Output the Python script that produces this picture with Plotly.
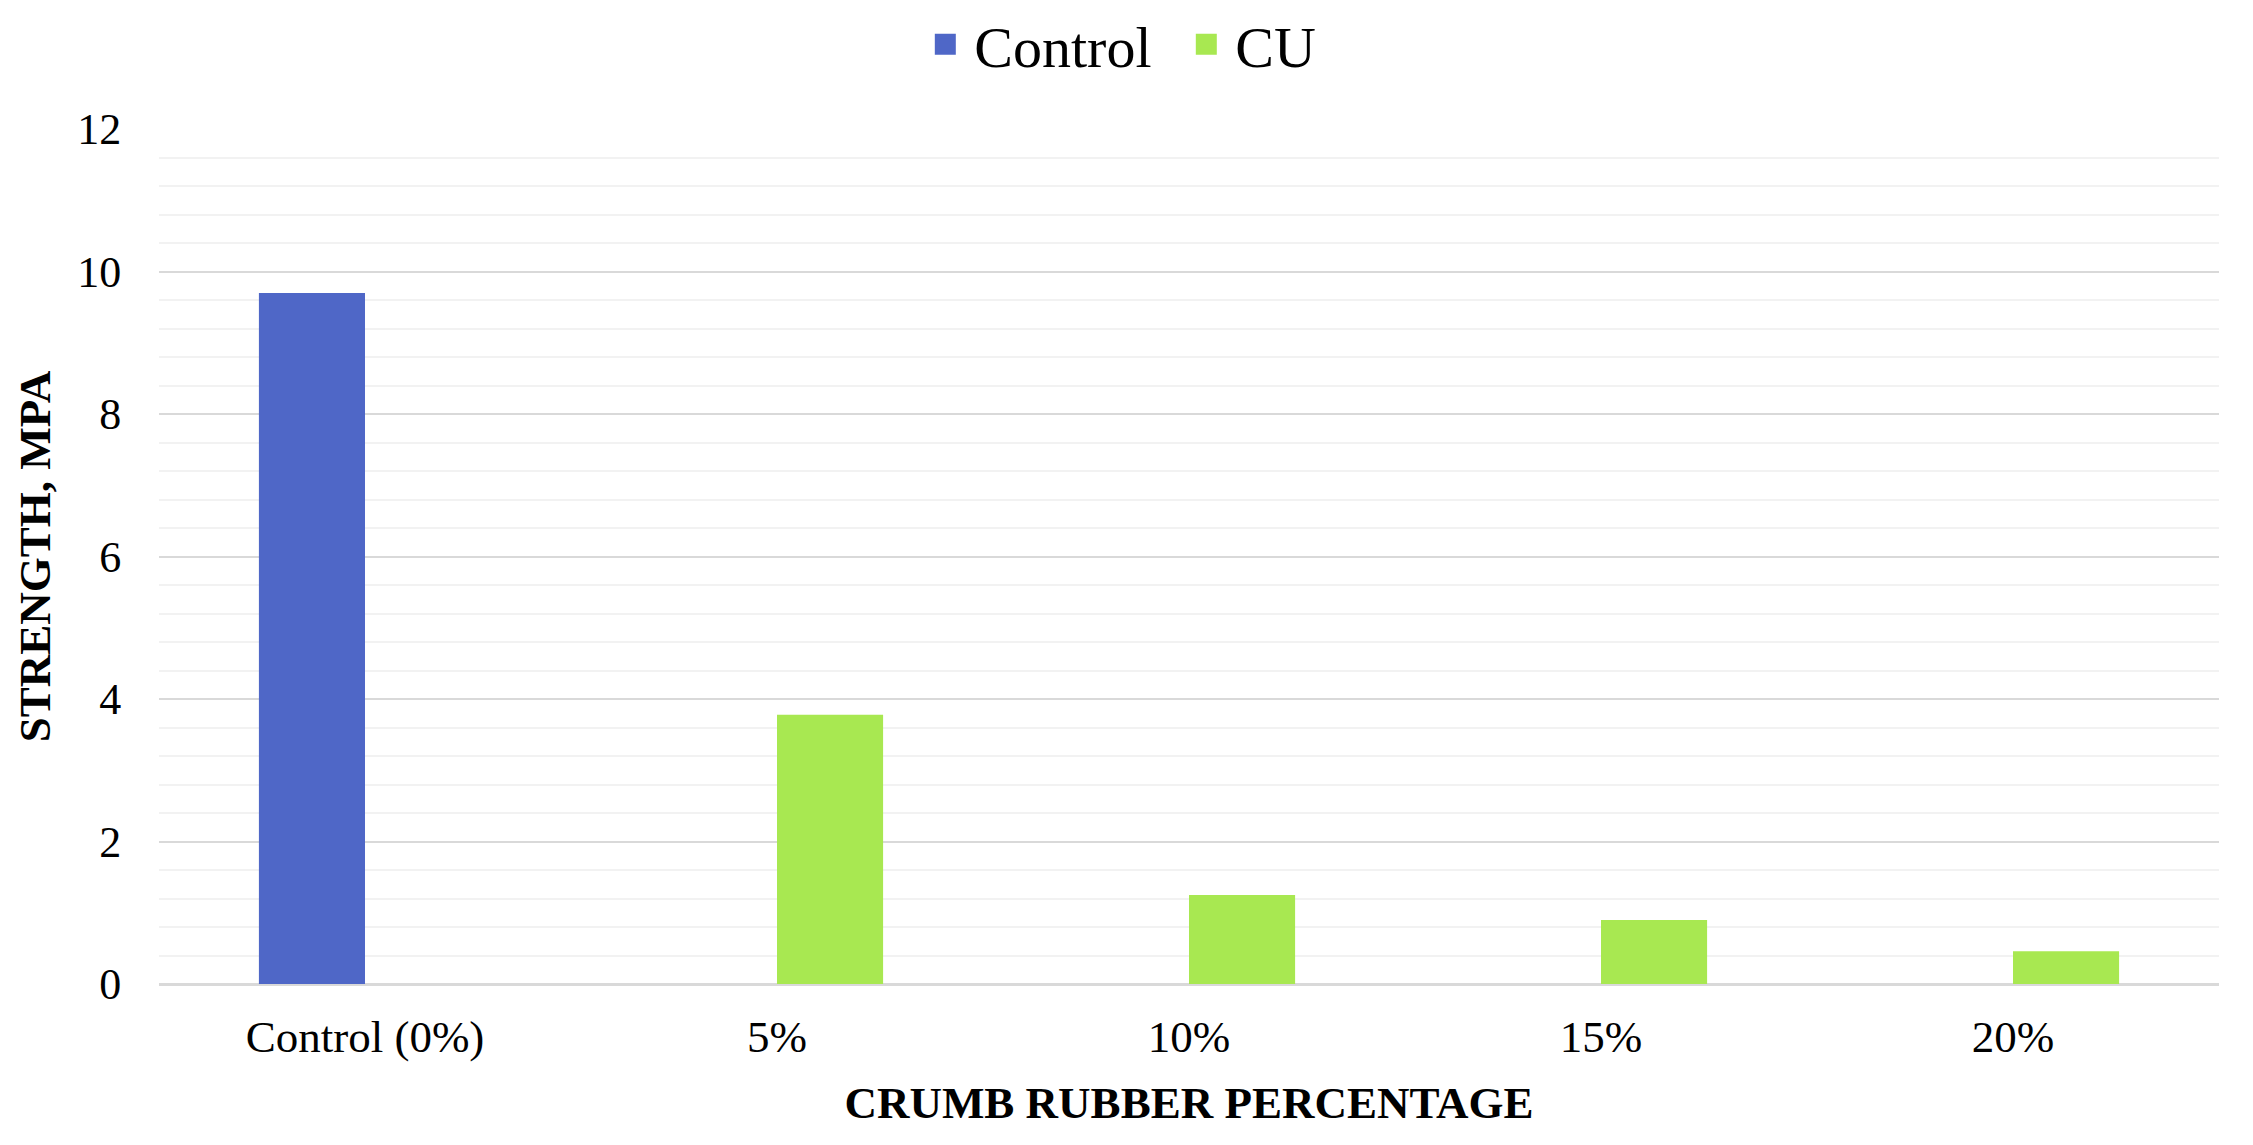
import plotly.graph_objects as go

categories = ["Control (0%)", "5%", "10%", "15%", "20%"]
control_vals = [9.70, None, None, None, None]
cu_vals = [None, 3.78, 1.25, 0.90, 0.46]
y_ticks = [0, 2, 4, 6, 8, 10, 12]

series_names = ["Control", "CU"]
series_colors = ["#4F67C7", "#A8E851"]

FONT = "Liberation Serif, Times New Roman, serif"

fig = go.Figure()
for name, vals, col in zip(series_names, [control_vals, cu_vals], series_colors):
    fig.add_trace(go.Bar(name=name, x=categories, y=vals, legendgroup=name,
                         showlegend=False, marker=dict(color=col, line=dict(width=0))))
# legend entries with larger square swatches
for name, col in zip(series_names, series_colors):
    fig.add_trace(go.Scatter(name=name, x=[categories[0]], y=[None], mode="markers",
                             legendgroup=name, showlegend=True,
                             marker=dict(symbol="square", size=30, color=col,
                                         line=dict(color=col, width=8))))

fig.update_layout(
    width=2253, height=1145,
    barmode="group", bargap=0.485, bargroupgap=0,
    paper_bgcolor="white", plot_bgcolor="white",
    margin=dict(l=151, r=42, t=121, b=169),
    font=dict(family=FONT, color="black", size=44),
    legend=dict(orientation="h", xref="container", yref="container",
                x=0.519, xanchor="center", y=0.968, yanchor="middle",
                font=dict(size=58, family=FONT), itemsizing="trace",
                traceorder="normal", itemwidth=48,
                entrywidth=198, entrywidthmode="pixels"),
    showlegend=True,
)
fig.update_xaxes(
    showgrid=False, showline=True, linecolor="#D9D9D9", linewidth=2,
    ticks="outside", ticklen=12, tickcolor="rgba(0,0,0,0)",
    tickfont=dict(size=45, family=FONT),
    title=dict(text="<b>CRUMB RUBBER PERCENTAGE</b>", font=dict(size=45, family=FONT), standoff=25),
)
fig.update_yaxes(
    range=[0, 12], tickvals=y_ticks,
    showgrid=True, gridcolor="#D9D9D9", gridwidth=2,
    zeroline=True, zerolinecolor="#D9D9D9", zerolinewidth=2,
    minor=dict(dtick=0.4, showgrid=True, gridcolor="#F2F2F2", gridwidth=2),
    ticks="outside", ticklen=28, tickcolor="rgba(0,0,0,0)",
    tickfont=dict(size=44, family=FONT),
    title=dict(text="<b>STRENGTH, MPA</b>", font=dict(size=45, family=FONT), standoff=12),
)

fig.write_html("out.html")
